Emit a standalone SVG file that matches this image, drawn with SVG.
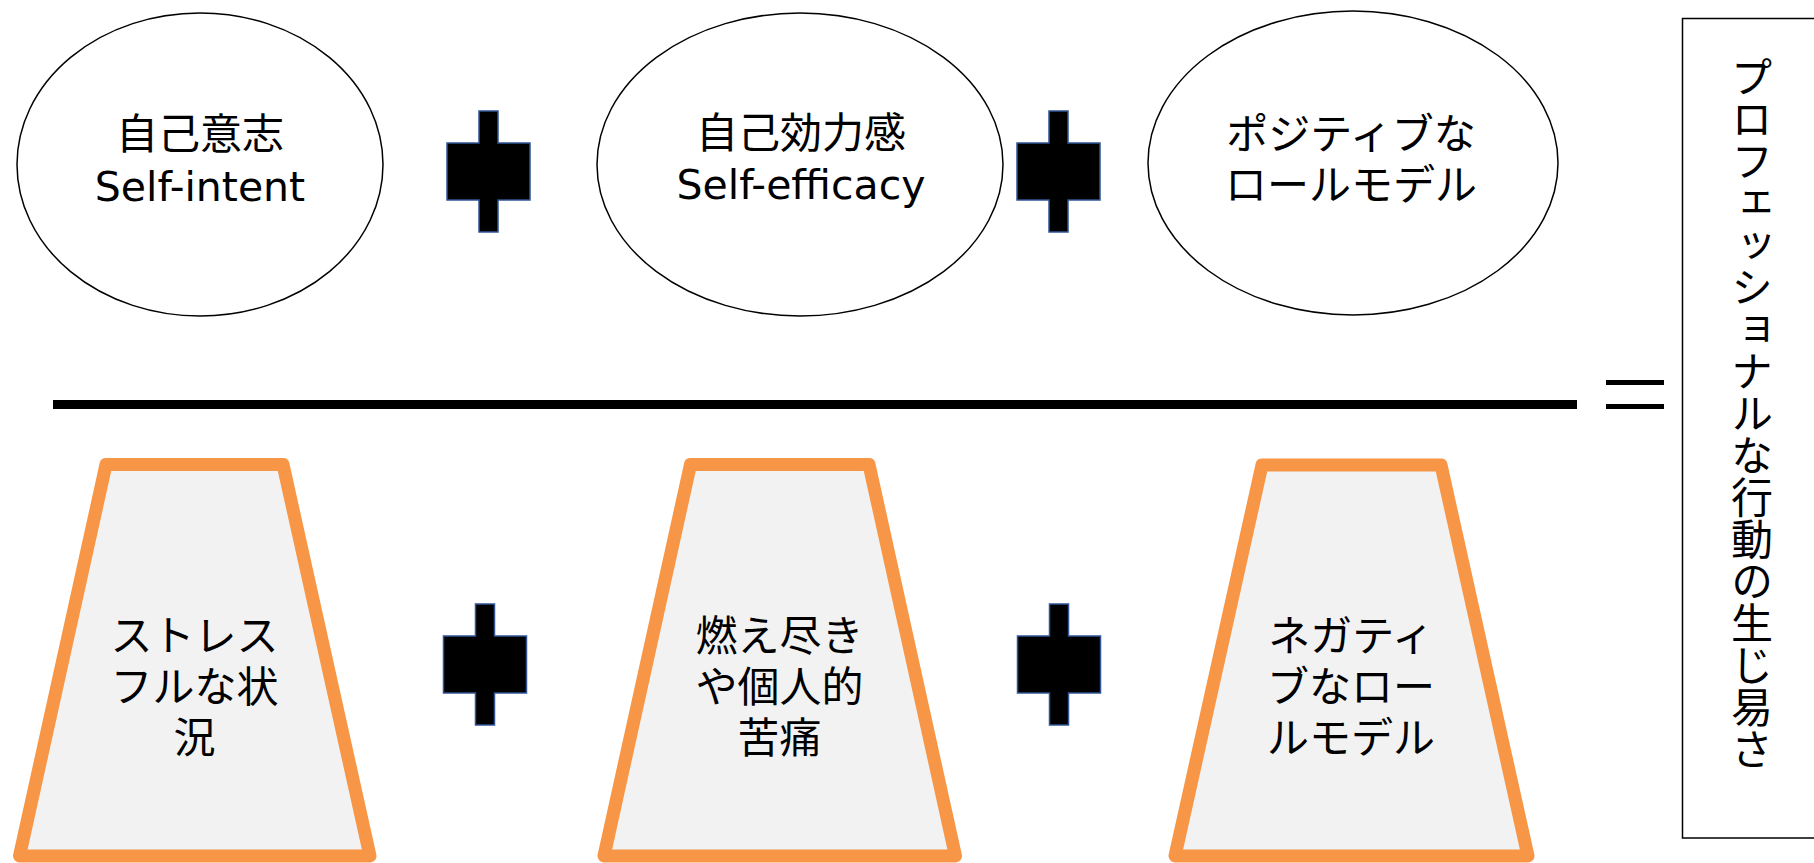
<svg xmlns="http://www.w3.org/2000/svg" width="1814" height="863" viewBox="0 0 1814 863">
<style>
  .t { font-family: "DejaVu Sans", "Noto Sans CJK JP", sans-serif; font-size: 42px; fill: #000; text-anchor: middle; }
  .lat { font-size: 41px; }
  .ell { fill: #fff; stroke: #000; stroke-width: 1.5; }
  .trap { fill: #F2F2F2; stroke: #F79646; stroke-width: 13; stroke-linejoin: round; }
  .plus { fill: #000; stroke: #2F5597; stroke-width: 1.5; }
</style>
<defs>
  <path id="plusShape" d="M -9.5 0 H 9.5 V 32 H 41.5 V 89 H 9.5 V 121 H -9.5 V 89 H -41.5 V 32 H -9.5 Z"/>
</defs>
<rect width="1814" height="863" fill="#fff"/>

<g id="node-self-intent">
  <ellipse class="ell" cx="200" cy="164.5" rx="183" ry="151.5"/>
  <text class="t" x="200" y="149">自己意志</text>
  <text class="t lat" x="200" y="201">Self-intent</text>
</g>
<g id="node-self-efficacy">
  <ellipse class="ell" cx="800" cy="164.5" rx="203" ry="151.5"/>
  <text class="t" x="801" y="148">自己効力感</text>
  <text class="t lat" x="801" y="199">Self-efficacy</text>
</g>
<g id="node-positive-role-model">
  <ellipse class="ell" cx="1353" cy="163" rx="205" ry="152"/>
  <text class="t" x="1351" y="149">ポジティブな</text>
  <text class="t" x="1351" y="200">ロールモデル</text>
</g>

<g id="node-stressful">
  <polygon class="trap" points="106,464.5 283,464.5 370,856 19.5,856"/>
  <text class="t" x="194.5" y="651">ストレス</text>
  <text class="t" x="194.5" y="702">フルな状</text>
  <text class="t" x="194.5" y="753">況</text>
</g>
<g id="node-burnout">
  <polygon class="trap" points="690.5,464.5 869,464.5 955.5,856 604,856"/>
  <text class="t" x="779.5" y="651">燃え尽き</text>
  <text class="t" x="779.5" y="702">や個人的</text>
  <text class="t" x="779.5" y="753">苦痛</text>
</g>
<g id="node-negative-role-model">
  <polygon class="trap" points="1262,465 1441,465 1528,856 1175,856"/>
  <text class="t" x="1351" y="651">ネガティ</text>
  <text class="t" x="1351" y="702">ブなロー</text>
  <text class="t" x="1351" y="753">ルモデル</text>
</g>

<g id="node-result">
  <rect x="1682.5" y="18.5" width="140" height="819.5" fill="#fff" stroke="#000" stroke-width="1.5"/>
  <text class="t" x="1748" y="56" style="writing-mode: vertical-rl; text-anchor: start;">プロフェッショナルな行動の生じ易さ</text>
</g>

<g id="connectors">
  <use href="#plusShape" class="plus" transform="translate(488.5,111)"/>
  <use href="#plusShape" class="plus" transform="translate(1058.5,111)"/>
  <use href="#plusShape" class="plus" transform="translate(485,604)"/>
  <use href="#plusShape" class="plus" transform="translate(1059,604)"/>
  <line x1="53" y1="404.5" x2="1577" y2="404.5" stroke="#000" stroke-width="9"/>
  <line x1="1606" y1="382.5" x2="1664" y2="382.5" stroke="#000" stroke-width="5"/>
  <line x1="1606" y1="406.5" x2="1664" y2="406.5" stroke="#000" stroke-width="5"/>
</g>
</svg>
